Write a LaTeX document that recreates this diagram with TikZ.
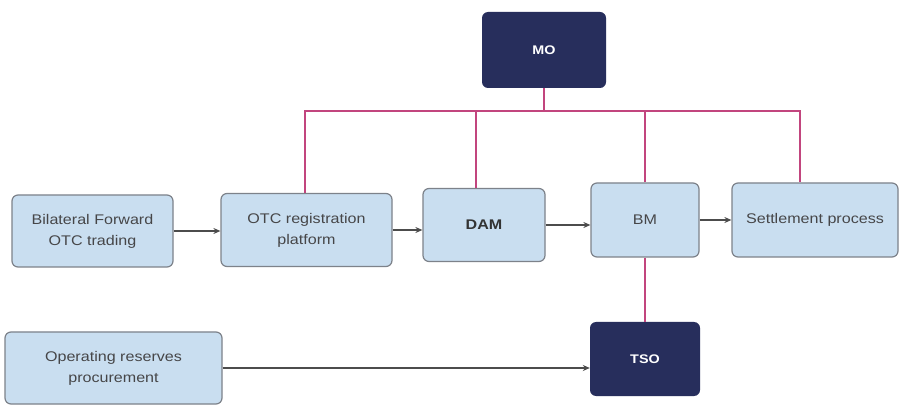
\documentclass[tikz,border=0pt]{standalone}
\usepackage{fontspec}
\setmainfont{Liberation Sans}
\newfontfamily\boxfont[FakeStretch=1.15]{Liberation Sans}
\usetikzlibrary{arrows.meta,calc}
\definecolor{boxfill}{RGB}{201,222,240}
\definecolor{boxline}{RGB}{125,130,138}
\definecolor{navy}{RGB}{39,46,92}
\definecolor{pinkline}{RGB}{194,69,126}
\definecolor{txt}{RGB}{70,70,72}
\tikzset{
  pbox/.style={draw=boxline, line width=1.2pt, fill=boxfill, rounded corners=6pt,
    align=center, text=txt, font=\boxfont\fontsize{14}{21}\selectfont, inner sep=0pt},
  dbox/.style={fill=navy, rounded corners=6pt, align=center, text=white,
    font=\boxfont\fontsize{12.5}{14}\selectfont\bfseries, inner sep=0pt},
  flow/.style={draw=black!70, line width=1.1pt, -{Stealth[length=7pt,width=6pt]}},
  link/.style={draw=pinkline, line width=1.6pt}
}
\begin{document}
\begin{tikzpicture}[x=1pt,y=-1pt]
\useasboundingbox[fill=white] (0,0) rectangle (903,406);
\node[dbox, minimum width=124pt, minimum height=76pt] (mo) at (544,50) {MO};
\node[pbox, minimum width=161pt, minimum height=72pt] (bil) at (92.5,231) {Bilateral Forward\\OTC trading};
\node[pbox, minimum width=171pt, minimum height=73pt] (otc) at (306.5,230) {OTC registration\\platform};
\node[pbox, minimum width=122pt, minimum height=73pt, font=\boxfont\fontsize{14}{21}\selectfont\bfseries, text=black!80] (dam) at (484,225) {DAM};
\node[pbox, minimum width=108pt, minimum height=74pt] (bm) at (645,220) {BM};
\node[pbox, minimum width=166pt, minimum height=74pt] (set) at (815,220) {Settlement process};
\node[dbox, minimum width=110pt, minimum height=74pt] (tso) at (645,359) {TSO};
\node[pbox, minimum width=217pt, minimum height=72pt] (op) at (113.5,368) {Operating reserves\\procurement};
\coordinate (bus) at (544,111);
\draw[link] (mo.south) -- (bus);
\draw[link] (otc.north -| 305,0) |- (bus) -| (set.north -| 800,0);
\draw[link] (dam.north -| 476,0) -- (bus -| 476,0);
\draw[link] (bm.north) -- (bus -| bm.north);
\draw[link] (bm.south) -- (tso.north);
\draw[flow] (bil.east) -- (bil.east -| otc.west);
\draw[flow] (otc.east) -- (otc.east -| dam.west);
\draw[flow] (dam.east) -- (dam.east -| bm.west);
\draw[flow] (bm.east) -- (bm.east -| set.west);
\draw[flow] (op.east) -- (op.east -| tso.west);
\end{tikzpicture}
\end{document}
